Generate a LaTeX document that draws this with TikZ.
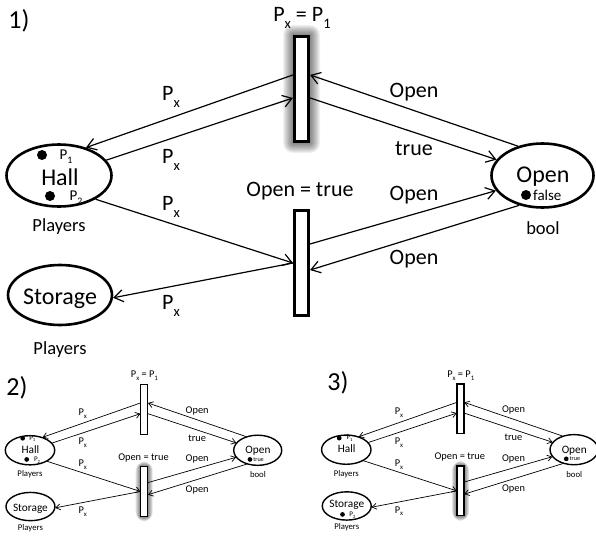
\documentclass[tikz,border=0pt]{standalone}
\usepackage{fontspec}
\setmainfont{Carlito}
\usepackage{graphicx}
\usetikzlibrary{shapes.geometric,arrows.meta,calc}
\newcommand\psub[1]{\raisebox{-0.28em}{\scalebox{0.66}{#1}}}
\tikzset{
  place/.style={ellipse, draw, line width=2.6pt, fill=white, inner sep=0pt},
  trans/.style={rectangle, draw, line width=2.6pt, fill=white, inner sep=0pt, minimum width=14.5pt, minimum height=105.5pt},
  arc/.style={line width=1.2pt, -{Straight Barb[length=9pt,width=12pt]}},
  lbl/.style={inner sep=0pt, font=\fontsize{22}{24}\selectfont},
  ptext/.style={inner sep=0pt, font=\fontsize{24}{26}\selectfont},
  typ/.style={inner sep=0pt, font=\fontsize{18.5}{20}\selectfont},
  tok/.style={circle, fill=black, inner sep=0pt, minimum size=10pt},
  toktext/.style={inner sep=0pt, font=\fontsize{15}{17}\selectfont},
  num/.style={inner sep=0pt, font=\fontsize{26}{28}\selectfont},
}
\newcommand\glowrect[2]{%
  \foreach \k in {1,...,10}{
    \fill[black, opacity=0.055, rounded corners=\k pt] ({#1-8.5-\k},{#2-54-\k}) rectangle ({#1+8.5+\k},{#2+54+\k});
  }}
% #1 prefix, #2 y of glowing transition, #3 token text of Open, #4 y of lower Players
\newcommand\petrinet[4]{%
  \glowrect{301.5}{#2}
  \node[place, minimum width=105pt, minimum height=62pt] (#1hall) at (59,175.5) {};
  \node[place, minimum width=104pt, minimum height=60pt] (#1stor) at (60,295) {};
  \node[place, minimum width=102pt, minimum height=64pt] (#1open) at (542.5,175.5) {};
  \node[trans] (#1ta) at (301.5,89) {};
  \node[trans] (#1tb) at (301.5,263) {};
  \node[lbl] (#1lta) at (302,18) {P\psub{x} = P\psub{1}};
  \node[lbl] (#1ltb) at (300,191) {Open = true};
  \node[typ] (#1thall) at (59,227) {Players};
  \node[typ] (#1tstor) at (60,#4) {Players};
  \node[typ] (#1topen) at (543,228) {bool};
  \node[ptext] (#1nopen) at (543,177) {Open};
  \node[tok] (#1otok) at (526,195) {};
  \node[toktext, anchor=west] (#1otokl) at (533,195) {#3};
  \draw[arc] ($(#1ta.north west)!0.37!(#1ta.south west)$) -- (#1hall.46);
  \draw[arc] (#1hall.18) -- ($(#1ta.north west)!0.583!(#1ta.south west)$);
  \draw[arc] (#1open.130) -- ($(#1ta.north east)!0.37!(#1ta.south east)$);
  \draw[arc] ($(#1ta.north east)!0.583!(#1ta.south east)$) -- (#1open.161);
  \draw[arc] (#1hall.-33) -- (#1tb.west);
  \draw[arc] (#1tb.west) -- (#1stor.-3);
  \draw[arc] ($(#1tb.north east)!0.324!(#1tb.south east)$) -- (#1open.-162);
  \draw[arc] (#1open.-128) -- ($(#1tb.north east)!0.565!(#1tb.south east)$);
  \node[lbl] (#1l1) at (171,97) {P\psub{x}};
  \node[lbl] (#1l2) at (171,160) {P\psub{x}};
  \node[lbl] (#1l3) at (414,92) {Open};
  \node[lbl] (#1l4) at (414,149) {true};
  \node[lbl] (#1l5) at (171,207) {P\psub{x}};
  \node[lbl] (#1l6) at (171,306) {P\psub{x}};
  \node[lbl] (#1l7) at (414,195) {Open};
  \node[lbl] (#1l8) at (414,259) {Open};
}
\begin{document}
\begin{tikzpicture}[x=1pt,y=-1pt]
\path[use as bounding box, fill=white] (0,0) rectangle (596,535);
% diagram 1
\node[num] (n1) at (19,21) {1)};
\petrinet{a}{89}{false}{350}
\node[ptext] (ahn) at (60,177) {Hall};
\node[tok] (ah1) at (42,155) {};
\node[toktext] (ah1l) at (66,157) {P\psub{1}};
\node[tok] (ah2) at (50,196) {};
\node[toktext] (ah2l) at (76,198) {P\psub{2}};
\node[ptext] (asn) at (60,299) {Storage};
% diagram 2
\node[num] (n2) at (17,388) {2)};
\begin{scope}[shift={(2.2,367.6)}, scale=0.471, transform shape,
  place/.append style={line width=1.4pt}, trans/.append style={line width=1.4pt},
  arc/.append style={line width=0.7pt, -{Straight Barb[length=4.5pt,width=6pt]}}]
\petrinet{b}{263}{\fontsize{13}{14}\selectfont true}{341}
\node[ptext] (bhn) at (60,174) {Hall};
\node[ptext] (bsn) at (60,299) {Storage};
\node[tok] (bh1) at (43.5,150) {};
\node[toktext] (bh1l) at (64,151) {P\psub{1}};
\node[tok] (bh2) at (52,195) {};
\node[toktext] (bh2l) at (74,196) {P\psub{2}};
\end{scope}
% diagram 3
\node[num] (n3) at (338,383) {3)};
\begin{scope}[shift={(318.5,367)}, scale=0.471, transform shape,
  place/.append style={line width=1.4pt}, trans/.append style={line width=1.4pt},
  arc/.append style={line width=0.7pt, -{Straight Barb[length=4.5pt,width=6pt]}}]
\petrinet{c}{263}{\fontsize{13}{14}\selectfont true}{341}
\node[ptext] (chn) at (60,174) {Hall};
\node[ptext] (csn) at (60,292) {Storage};
\node[tok] (ch1) at (44,151) {};
\node[toktext] (ch1l) at (66,152) {P\psub{1}};
\node[tok] (cs2) at (51,313) {};
\node[toktext] (cs2l) at (72,314) {P\psub{2}};
\end{scope}
\end{tikzpicture}
\end{document}
